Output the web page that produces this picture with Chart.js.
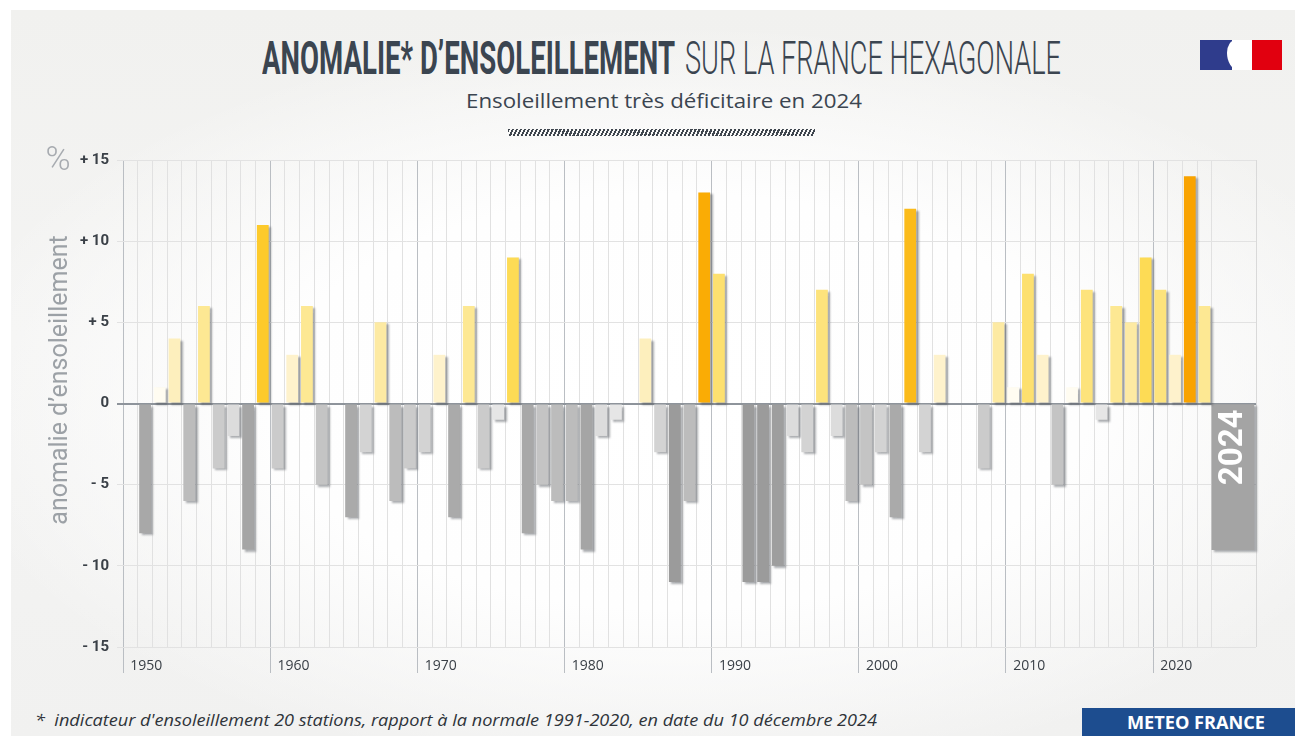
<!DOCTYPE html>
<html lang="fr">
<head>
<meta charset="utf-8">
<title>Anomalie d'ensoleillement sur la France hexagonale</title>
<script src="https://cdn.jsdelivr.net/npm/chart.js@4.4.1/dist/chart.umd.min.js"></script>
<style>
  html, body { margin: 0; padding: 0; }
  body { width: 1295px; height: 736px; overflow: hidden; position: relative; background: #fff; color: #3d4650; }
  #panel {
    position: absolute; left: 11px; top: 10px; right: 0; bottom: 0;
    background:
      radial-gradient(ellipse 58% 52% at 52% 54%, #ffffff 0%, #fefefe 55%, rgba(255,255,255,0) 100%),
      linear-gradient(#f1f1ef, #f4f4f3 45%, #f1f1f0);
  }
  .fit { position: absolute; white-space: nowrap; transform-origin: left top; line-height: normal; }
  #hatch {
    position: absolute; left: 508px; top: 129px; width: 307px; height: 7px;
    background: repeating-linear-gradient(115deg, #3f464e 0 1.9px, transparent 1.9px 3.6px);
  }
  #logo {
    position: absolute; left: 1200px; top: 40px; width: 82px; height: 30px;
    background: linear-gradient(90deg, #2f3c8c 0 39%, #ffffff 39% 63%, #e1000f 63% 100%);
  }
  #logo::after {
    content: ''; position: absolute; left: 27px; top: 0; width: 20px; height: 30px;
    background: #fff; border-radius: 45% 55% 30% 60%;
  }
  #brand {
    position: absolute; left: 1082px; top: 708px; width: 213px; height: 28px;
    background: #1d4d8f;
  }
  #box { position: absolute; left: 0; top: 140px; width: 1295px; height: 550px; }
</style>
</head>
<body>
<div id="panel"></div>
<div class="fit" data-w="413" style="left:262px; top:31px; font: 700 46px Roboto; color:#3b4550;">ANOMALIE* D’ENSOLEILLEMENT</div>
<div class="fit" data-w="376" style="left:685px; top:31px; font: 300 46px Roboto; color:#3b4550;">SUR LA FRANCE HEXAGONALE</div>
<div class="fit" data-w="396" style="left:466px; top:87px; font: 500 20px 'Open Sans'; color:#3b4550;">Ensoleillement très déficitaire en 2024</div>
<div id="hatch"></div>
<div id="logo"></div>
<div id="box"><canvas id="sunChart"></canvas></div>
<div class="fit" data-w="842" style="left:35px; top:709px; font: italic 400 16px 'Open Sans'; color:#2f343a;">*&nbsp; indicateur d'ensoleillement 20 stations, rapport à la normale 1991-2020, en date du 10 décembre 2024</div>
<div id="brand"></div>
<div class="fit" data-w="138" style="left:1127px; top:711px; font: 700 17px 'Open Sans'; color:#fff;">METEO FRANCE</div>

<script>
// squeeze the condensed header / footer texts to their width
document.querySelectorAll('.fit').forEach(function (el) {
  var w = el.getBoundingClientRect().width;
  el.style.transform = 'scaleX(' + (el.dataset.w / w) + ')';
});

// anomalie d'ensoleillement (%) par année
let years = [1950, 1951, 1952, 1953, 1954, 1955, 1956, 1957, 1958, 1959,
             1960, 1961, 1962, 1963, 1964, 1965, 1966, 1967, 1968, 1969,
             1970, 1971, 1972, 1973, 1974, 1975, 1976, 1977, 1978, 1979,
             1980, 1981, 1982, 1983, 1984, 1985, 1986, 1987, 1988, 1989,
             1990, 1991, 1992, 1993, 1994, 1995, 1996, 1997, 1998, 1999,
             2000, 2001, 2002, 2003, 2004, 2005, 2006, 2007, 2008, 2009,
             2010, 2011, 2012, 2013, 2014, 2015, 2016, 2017, 2018, 2019,
             2020, 2021, 2022, 2023];
let anomalies = [0, -8, 1, 4, -6, 6, -4, -2, -9, 11,
                 -4, 3, 6, -5, 0, -7, -3, 5, -6, -4,
                 -3, 3, -7, 6, -4, -1, 9, -8, -5, -6,
                 -6, -9, -2, -1, 0, 4, -3, -11, -6, 13,
                 8, 0, -11, -11, -10, -2, -3, 7, -2, -6,
                 -5, -3, -7, 12, -3, 3, 0, 0, -4, 5,
                 1, 8, 3, -5, 1, 7, -1, 6, 5, 9,
                 7, 3, 14, 6];
let year2024 = 2024;
let anomaly2024 = -9;
// empty room kept at the right of the axis for the wide 2024 bar
let extraYears = [2024, 2025, 2026];
let yTicks = [-15, -10, -5, 0, 5, 10, 15];

let labels = years.concat(extraYears);
let nSlots = labels.length;
let wideSlots = 2.85; // width of the 2024 bar, in years

// colours by size of the anomaly
let warm = ['#ffffff', '#fffcf1', '#fef6dc', '#fef2cc', '#fdefbd', '#fdeaa3', '#fde893',
            '#fde37c', '#fde06f', '#fddb55', '#fdd23e', '#fdca2b', '#fbbb1a', '#faac05', '#f9a300'];
let cold = ['#ffffff', '#e6e6e6', '#dcdcdc', '#d3d3d3', '#cbcbcb', '#c4c4c4', '#bcbcbc',
            '#aaaaaa', '#a8a8a8', '#a5a5a5', '#9e9e9e', '#9b9b9b'];

function barColor(c) {
  var v = c.raw;
  if (v === null || v === undefined) return 'transparent';
  return v >= 0 ? warm[Math.min(v, warm.length - 1)] : cold[Math.min(-v, cold.length - 1)];
}

var shadowPlugin = {
  id: 'barShadow',
  beforeDatasetsDraw: function (chart) {
    var c = chart.ctx;
    c.save();
    c.shadowColor = 'rgba(70, 75, 82, 0.45)';
    c.shadowOffsetX = 2.5;
    c.shadowOffsetY = 2;
    c.shadowBlur = 2;
  },
  afterDatasetsDraw: function (chart) {
    chart.ctx.restore();
  }
};

var decorPlugin = {
  id: 'decor',
  afterDatasetsDraw: function (chart) {
    var c = chart.ctx;
    var bar = chart.getDatasetMeta(1).data[0];
    if (bar) {
      c.save();
      c.translate(bar.x + 1, Math.min(bar.base, bar.y) + 5);
      c.rotate(-Math.PI / 2);
      c.fillStyle = '#ffffff';
      c.font = 'bold 33px Roboto';
      c.textAlign = 'right';
      c.textBaseline = 'middle';
      c.fillText(String(year2024), 0, 0);
      c.restore();
    }
  },
  afterDraw: function (chart) {
    var c = chart.ctx;
    c.save();
    c.fillStyle = '#a7abb0';
    c.font = '300 34px Roboto';
    c.textAlign = 'center';
    c.textBaseline = 'middle';
    c.fillText('%', 58, 21);
    c.translate(61, 240);
    c.rotate(-Math.PI / 2);
    c.fillStyle = '#9ca1a6';
    c.font = '400 25px Roboto';
    c.fillText('anomalie d’ensoleillement', 0, 0);
    c.restore();
  }
};

var ctx = document.getElementById('sunChart').getContext('2d');
var sunChart = new Chart(ctx, {
  type: 'bar',
  data: {
    labels: labels,
    datasets: [{
      label: 'anomalie',
      data: anomalies.concat(extraYears.map(function () { return null; })),
      backgroundColor: barColor,
      categoryPercentage: 1,
      barPercentage: 0.8,
      grouped: false,
      xAxisID: 'x'
    }, {
      label: String(year2024),
      data: [{ x: year2024, y: anomaly2024 }],
      backgroundColor: '#a4a4a4',
      barThickness: 42,
      grouped: false,
      xAxisID: 'xw',
      clip: false
    }]
  },
  options: {
    responsive: true,
    maintainAspectRatio: false,
    animation: false,
    layout: { padding: { top: 20, right: 39, left: 0, bottom: 0 } },
    plugins: {
      legend: { display: false },
      tooltip: { enabled: false }
    },
    scales: {
      x: {
        type: 'category',
        offset: true,
        border: { display: false },
        grid: {
          offset: true,
          tickLength: 26,
          color: function (c) {
            if (c.index === undefined) return '#d9d9d9';
            if (c.index >= years.length + 1) return 'transparent';
            return labels[c.index] % 10 === 0 ? '#babec3' : '#e1e1e1';
          },
          tickColor: function (c) {
            if (c.index === undefined) return 'transparent';
            return labels[c.index] % 10 === 0 ? '#babec3' : 'transparent';
          }
        },
        ticks: {
          autoSkip: false,
          maxRotation: 0,
          minRotation: 0,
          align: 'start',
          padding: -15,
          color: '#3a4047',
          font: { family: 'Open Sans', size: 14 },
          callback: function (value, index) {
            return labels[index] % 10 === 0 && index < years.length ? String(labels[index]) : '';
          }
        },
        afterFit: function (s) { s.height = 43; }
      },
      xw: {
        type: 'linear',
        display: false,
        offset: false,
        min: years[0] - wideSlots / 2,
        max: years[0] - wideSlots / 2 + nSlots
      },
      y: {
        min: yTicks[0],
        max: yTicks[yTicks.length - 1],
        border: { display: false },
        afterBuildTicks: function (s) {
          s.ticks = yTicks.map(function (v) { return { value: v }; });
        },
        grid: {
          tickLength: 6,
          color: function (c) { return c.tick && c.tick.value === 0 ? '#8e949b' : '#e2e2e2'; },
          lineWidth: function (c) { return c.tick && c.tick.value === 0 ? 2 : 1; }
        },
        ticks: {
          padding: 8,
          color: '#3a4047',
          font: { family: 'Roboto', size: 15, weight: 'bold' },
          callback: function (v) {
            if (v > 0) return '+ ' + v;
            if (v < 0) return '- ' + Math.abs(v);
            return '0';
          }
        },
        afterFit: function (s) { s.width = 123; }
      }
    }
  },
  plugins: [shadowPlugin, decorPlugin]
});

function resizeChart() {
  sunChart.resize();
}
window.addEventListener('resize', resizeChart);
</script>
</body>
</html>
